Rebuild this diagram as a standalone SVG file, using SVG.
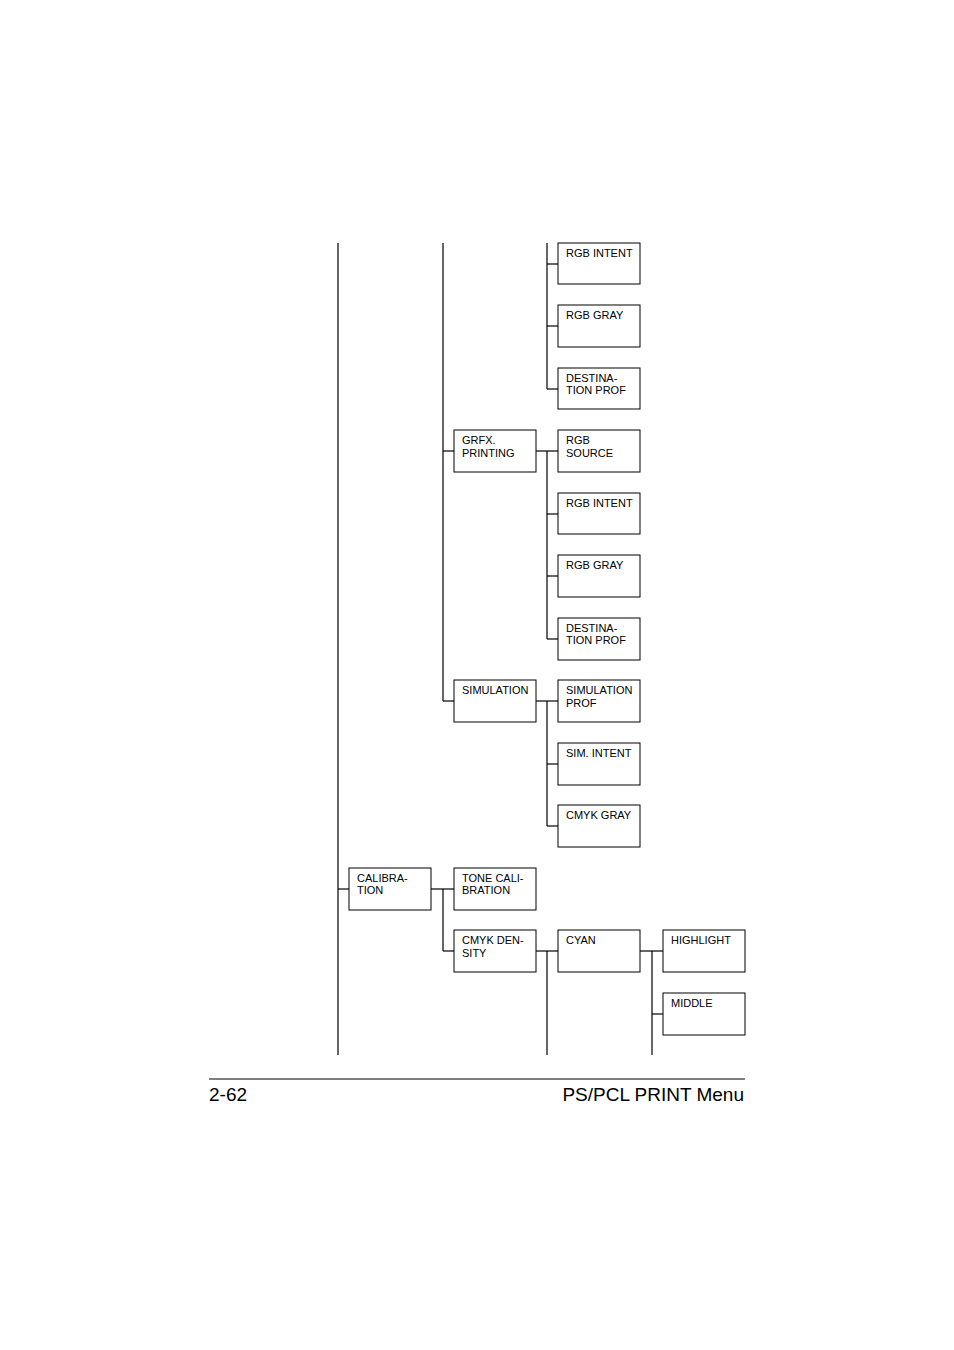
<svg xmlns="http://www.w3.org/2000/svg" width="954" height="1350" viewBox="0 0 954 1350">
<style>
rect{fill:#fff;stroke:#000;stroke-width:1}
line,path{stroke:#000;stroke-width:1.2;fill:none}
text{font-family:"Liberation Sans",Arial,sans-serif;font-size:11px;fill:#000}
.f{font-size:19px}
</style>
<rect x="0" y="0" width="954" height="1350" style="stroke:none"/>
<g id="connectors">
<line x1="338" y1="243" x2="338" y2="1055"/>
<line x1="443" y1="243" x2="443" y2="701"/>
<line x1="443" y1="451" x2="454" y2="451"/>
<line x1="443" y1="701" x2="454" y2="701"/>
<line x1="547" y1="243" x2="547" y2="389"/>
<line x1="547" y1="264" x2="558" y2="264"/>
<line x1="547" y1="326" x2="558" y2="326"/>
<line x1="547" y1="389" x2="558" y2="389"/>
<line x1="536" y1="451" x2="558" y2="451"/>
<line x1="547" y1="451" x2="547" y2="639"/>
<line x1="547" y1="514" x2="558" y2="514"/>
<line x1="547" y1="576" x2="558" y2="576"/>
<line x1="547" y1="639" x2="558" y2="639"/>
<line x1="536" y1="701" x2="558" y2="701"/>
<line x1="547" y1="701" x2="547" y2="826"/>
<line x1="547" y1="764" x2="558" y2="764"/>
<line x1="547" y1="826" x2="558" y2="826"/>
<line x1="338" y1="889" x2="349" y2="889"/>
<line x1="431" y1="889" x2="454" y2="889"/>
<line x1="443" y1="889" x2="443" y2="951"/>
<line x1="443" y1="951" x2="454" y2="951"/>
<line x1="536" y1="951" x2="558" y2="951"/>
<line x1="547" y1="951" x2="547" y2="1055"/>
<line x1="640" y1="951" x2="663" y2="951"/>
<line x1="652" y1="951" x2="652" y2="1055"/>
<line x1="652" y1="1014" x2="663" y2="1014"/>
</g>
<g id="n1"><rect x="558" y="243" width="82" height="41"/><text x="566" y="257">RGB INTENT</text></g>
<g id="n2"><rect x="558" y="305" width="82" height="42"/><text x="566" y="319">RGB GRAY</text></g>
<g id="n3"><rect x="558" y="368" width="82" height="41"/><text x="566" y="382">DESTINA-</text><text x="566" y="394">TION PROF</text></g>
<g id="n4"><rect x="454" y="430" width="82" height="42"/><text x="462" y="444">GRFX.</text><text x="462" y="457">PRINTING</text></g>
<g id="n5"><rect x="558" y="430" width="82" height="42"/><text x="566" y="444">RGB</text><text x="566" y="457">SOURCE</text></g>
<g id="n6"><rect x="558" y="493" width="82" height="41"/><text x="566" y="507">RGB INTENT</text></g>
<g id="n7"><rect x="558" y="555" width="82" height="42"/><text x="566" y="569">RGB GRAY</text></g>
<g id="n8"><rect x="558" y="618" width="82" height="42"/><text x="566" y="632">DESTINA-</text><text x="566" y="644">TION PROF</text></g>
<g id="n9"><rect x="454" y="680" width="82" height="42"/><text x="462" y="694">SIMULATION</text></g>
<g id="n10"><rect x="558" y="680" width="82" height="42"/><text x="566" y="694">SIMULATION</text><text x="566" y="707">PROF</text></g>
<g id="n11"><rect x="558" y="743" width="82" height="42"/><text x="566" y="757">SIM. INTENT</text></g>
<g id="n12"><rect x="558" y="805" width="82" height="42"/><text x="566" y="819">CMYK GRAY</text></g>
<g id="n13"><rect x="349" y="868" width="82" height="42"/><text x="357" y="882">CALIBRA-</text><text x="357" y="894">TION</text></g>
<g id="n14"><rect x="454" y="868" width="82" height="42"/><text x="462" y="882">TONE CALI-</text><text x="462" y="894">BRATION</text></g>
<g id="n15"><rect x="454" y="930" width="82" height="42"/><text x="462" y="944">CMYK DEN-</text><text x="462" y="957">SITY</text></g>
<g id="n16"><rect x="558" y="930" width="82" height="42"/><text x="566" y="944">CYAN</text></g>
<g id="n17"><rect x="663" y="930" width="82" height="42"/><text x="671" y="944">HIGHLIGHT</text></g>
<g id="n18"><rect x="663" y="993" width="82" height="42"/><text x="671" y="1007">MIDDLE</text></g>
<line x1="209" y1="1079" x2="745" y2="1079" style="stroke-width:1"/>
<text class="f" x="209" y="1101">2-62</text>
<text class="f" x="744" y="1101" text-anchor="end">PS/PCL PRINT Menu</text>
</svg>
